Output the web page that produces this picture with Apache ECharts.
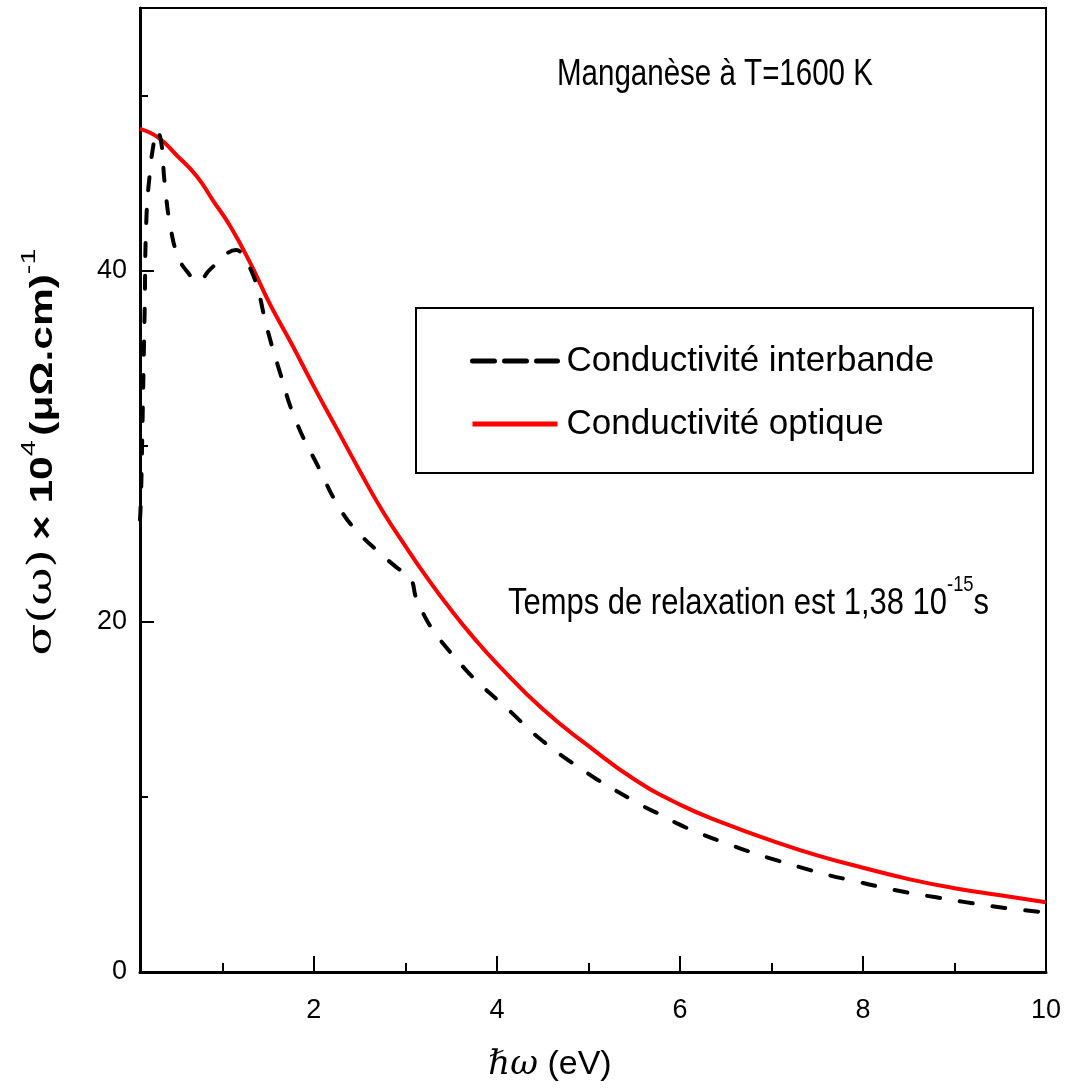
<!DOCTYPE html>
<html>
<head>
<meta charset="utf-8">
<script src="https://cdn.jsdelivr.net/npm/echarts@6/dist/echarts.min.js"></script>
<style>
html,body{margin:0;padding:0;background:#fff;}
#chart{width:1071px;height:1091px;}
</style>
</head>
<body>
<div id="chart"></div>
<script>
// ---- data ----
const seriesNames = ['Conductivité interbande', 'Conductivité optique'];

const interbandeX = [0.10,0.11,0.12,0.13,0.14,0.15,0.17,0.21,0.25,0.28,0.33,0.37,0.44,0.52,0.61,0.74,0.85,0.95,1.05,1.15,1.22,1.30,1.39,1.48,1.63,1.80,2.05,2.30,2.50,2.70,2.90,3.05,3.12,3.20,3.29,3.45,3.65,3.80,4.01,4.16,4.36,4.52,4.72,4.89,5.09,5.25,5.45,5.62,5.82,5.98,6.20,6.50,6.80,7.07,7.30,7.60,7.90,8.15,8.50,8.80,9.10,9.40,9.70,10.00];
const interbandeY = [25.8,27.0,29.3,32.0,34.8,37.5,43.0,45.7,47.3,48.0,47.4,45.0,42.3,40.8,40.0,39.4,40.0,40.5,41.0,41.2,40.9,40.2,38.9,36.9,34.2,31.5,28.8,26.3,25.0,24.0,23.1,22.5,21.3,20.4,19.6,18.5,17.3,16.5,15.5,14.8,13.8,13.1,12.3,11.7,11.0,10.5,9.9,9.4,8.9,8.45,7.95,7.35,6.8,6.35,6.0,5.56,5.2,4.9,4.52,4.26,4.0,3.76,3.56,3.40];

const optiqueX = [0.10,0.30,0.50,0.72,0.90,1.08,1.30,1.52,1.75,2.00,2.25,2.50,2.75,3.00,3.25,3.50,3.75,4.00,4.50,5.00,5.50,6.00,6.50,7.00,7.50,8.00,8.50,9.00,9.50,10.00];
const optiqueY = [48.1,47.6,46.6,45.4,44.0,42.6,40.5,38.1,35.9,33.4,31.0,28.6,26.3,24.3,22.4,20.65,19.05,17.6,15.0,12.9,11.0,9.55,8.45,7.5,6.65,5.95,5.3,4.78,4.38,3.98];

const xMajorTicks = [2, 4, 6, 8, 10];
const xMinorTicks = [1, 3, 5, 7, 9];
const yMajorTicks = [0, 20, 40];
const yMinorTicks = [10, 30, 50];
const xRange = [0.1, 10];
const yRange = [0, 55];

const titleText = 'Manganèse à T=1600 K';
const noteText = 'Temps de relaxation est 1,38 10';
const noteExp = '-15';
const noteUnit = 's';

// ---- chart ----
const FONT = "'Liberation Sans', Arial, sans-serif";
const zip = (xs, ys) => xs.map((x, i) => [x, ys[i]]);

const chart = echarts.init(document.getElementById('chart'), null, {renderer: 'canvas'});

const gridPos = {left: 140, right: 25, top: 8, bottom: 119};

const option = {
  backgroundColor: '#fff',
  animation: false,
  grid: Object.assign({show: true, borderColor: '#000', borderWidth: 2, backgroundColor: 'transparent', containLabel: false}, gridPos),
  xAxis: [
    {
      type: 'value', min: xRange[0], max: xRange[1], position: 'bottom',
      axisLine: {show: true, onZero: false, lineStyle: {color: '#000', width: 3}},
      axisTick: {show: true, inside: true, length: 16, lineStyle: {color: '#000', width: 2}, customValues: xMajorTicks},
      axisLabel: {show: true, customValues: xMajorTicks, margin: 25, color: '#000', fontSize: 27, fontFamily: FONT},
      splitLine: {show: false},
      name: '{i|ℏω} (eV)', nameLocation: 'middle', nameGap: 76,
      nameTextStyle: {color: '#000', fontSize: 34, fontFamily: FONT, padding: [0, 86, 0, 0],
        rich: {i: {fontFamily: "'DejaVu Serif', serif", fontStyle: 'italic', fontSize: 34, color: '#000'}}}
    },
    {
      type: 'value', min: xRange[0], max: xRange[1], position: 'bottom',
      axisLine: {show: false, onZero: false},
      axisTick: {show: true, inside: true, length: 9, lineStyle: {color: '#000', width: 2}, customValues: xMinorTicks},
      axisLabel: {show: false},
      splitLine: {show: false}
    }
  ],
  yAxis: [
    {
      type: 'value', min: yRange[0], max: yRange[1], position: 'left',
      axisLine: {show: true, onZero: false, lineStyle: {color: '#000', width: 3}},
      axisTick: {show: true, inside: true, length: 14, lineStyle: {color: '#000', width: 2}, customValues: yMajorTicks},
      axisLabel: {show: true, customValues: yMajorTicks, margin: 13, color: '#000', fontSize: 27, fontFamily: FONT},
      splitLine: {show: false}
    },
    {
      type: 'value', min: yRange[0], max: yRange[1], position: 'left',
      axisLine: {show: false, onZero: false},
      axisTick: {show: true, inside: true, length: 8, lineStyle: {color: '#000', width: 2}, customValues: yMinorTicks},
      axisLabel: {show: false},
      splitLine: {show: false}
    }
  ],
  legend: {
    show: true, orient: 'vertical', left: 470, top: 341, padding: 0,
    itemWidth: 85, itemHeight: 20, itemGap: 23,
    itemStyle: {opacity: 0},
    textStyle: {color: '#000', fontSize: 35, fontFamily: FONT, lineHeight: 40, padding: [0, 0, 0, 4]},
    data: [
      {name: seriesNames[0], lineStyle: {width: 5, type: [22, 10], color: '#000'}},
      {name: seriesNames[1], lineStyle: {width: 5, color: '#ff0000'}}
    ]
  },
  series: [
    {
      name: seriesNames[0], type: 'line', xAxisIndex: 0, yAxisIndex: 0,
      data: zip(interbandeX, interbandeY), showSymbol: false, symbol: 'none',
      smooth: 0.5,
      lineStyle: {color: '#000', width: 4, type: [13, 20], cap: 'round'},
      itemStyle: {color: '#000'}, z: 3
    },
    {
      name: seriesNames[1], type: 'line', xAxisIndex: 0, yAxisIndex: 0,
      data: zip(optiqueX, optiqueY), showSymbol: false, symbol: 'none',
      smooth: 0.5,
      lineStyle: {color: '#ff0000', width: 4},
      itemStyle: {color: '#ff0000'}, z: 2
    }
  ],
  graphic: [
    {type: 'rect', left: 415, top: 307, shape: {width: 617, height: 165},
     style: {fill: 'rgba(0,0,0,0)', stroke: '#000', lineWidth: 2}, z: 1},
    {type: 'text', x: 557, y: 75, scaleX: 0.82,
     style: {text: titleText, fill: '#000', font: '36px ' + FONT, align: 'left', verticalAlign: 'middle'}},
    {type: 'text', x: 508, y: 598, scaleX: 0.837,
     style: {text: '{n|' + noteText + '}{e|' + noteExp + '}{n|' + noteUnit + '}', align: 'left', verticalAlign: 'middle',
       rich: {
         n: {fontSize: 37, fontFamily: FONT, color: '#000', verticalAlign: 'bottom', lineHeight: 48},
         e: {fontSize: 22, fontFamily: FONT, color: '#000', verticalAlign: 'top', lineHeight: 48}
       }}},
    {type: 'text', x: 39, y: 452, rotation: Math.PI / 2, scaleX: 1.37,
     style: {text: '{s|σ(ω)}  {b|× 10}{p|4} {b|(μΩ.cm)}{p|-1}', align: 'center', verticalAlign: 'middle',
       rich: {
         s: {fontSize: 34, fontFamily: "'DejaVu Serif', serif", color: '#000', verticalAlign: 'bottom', lineHeight: 40},
         b: {fontSize: 31, fontWeight: 'bold', fontFamily: FONT, color: '#000', verticalAlign: 'bottom', lineHeight: 40},
         p: {fontSize: 21, fontFamily: FONT, color: '#000', verticalAlign: 'top', lineHeight: 40}
       }}}
  ]
};
chart.setOption(option);
</script>
</body>
</html>
